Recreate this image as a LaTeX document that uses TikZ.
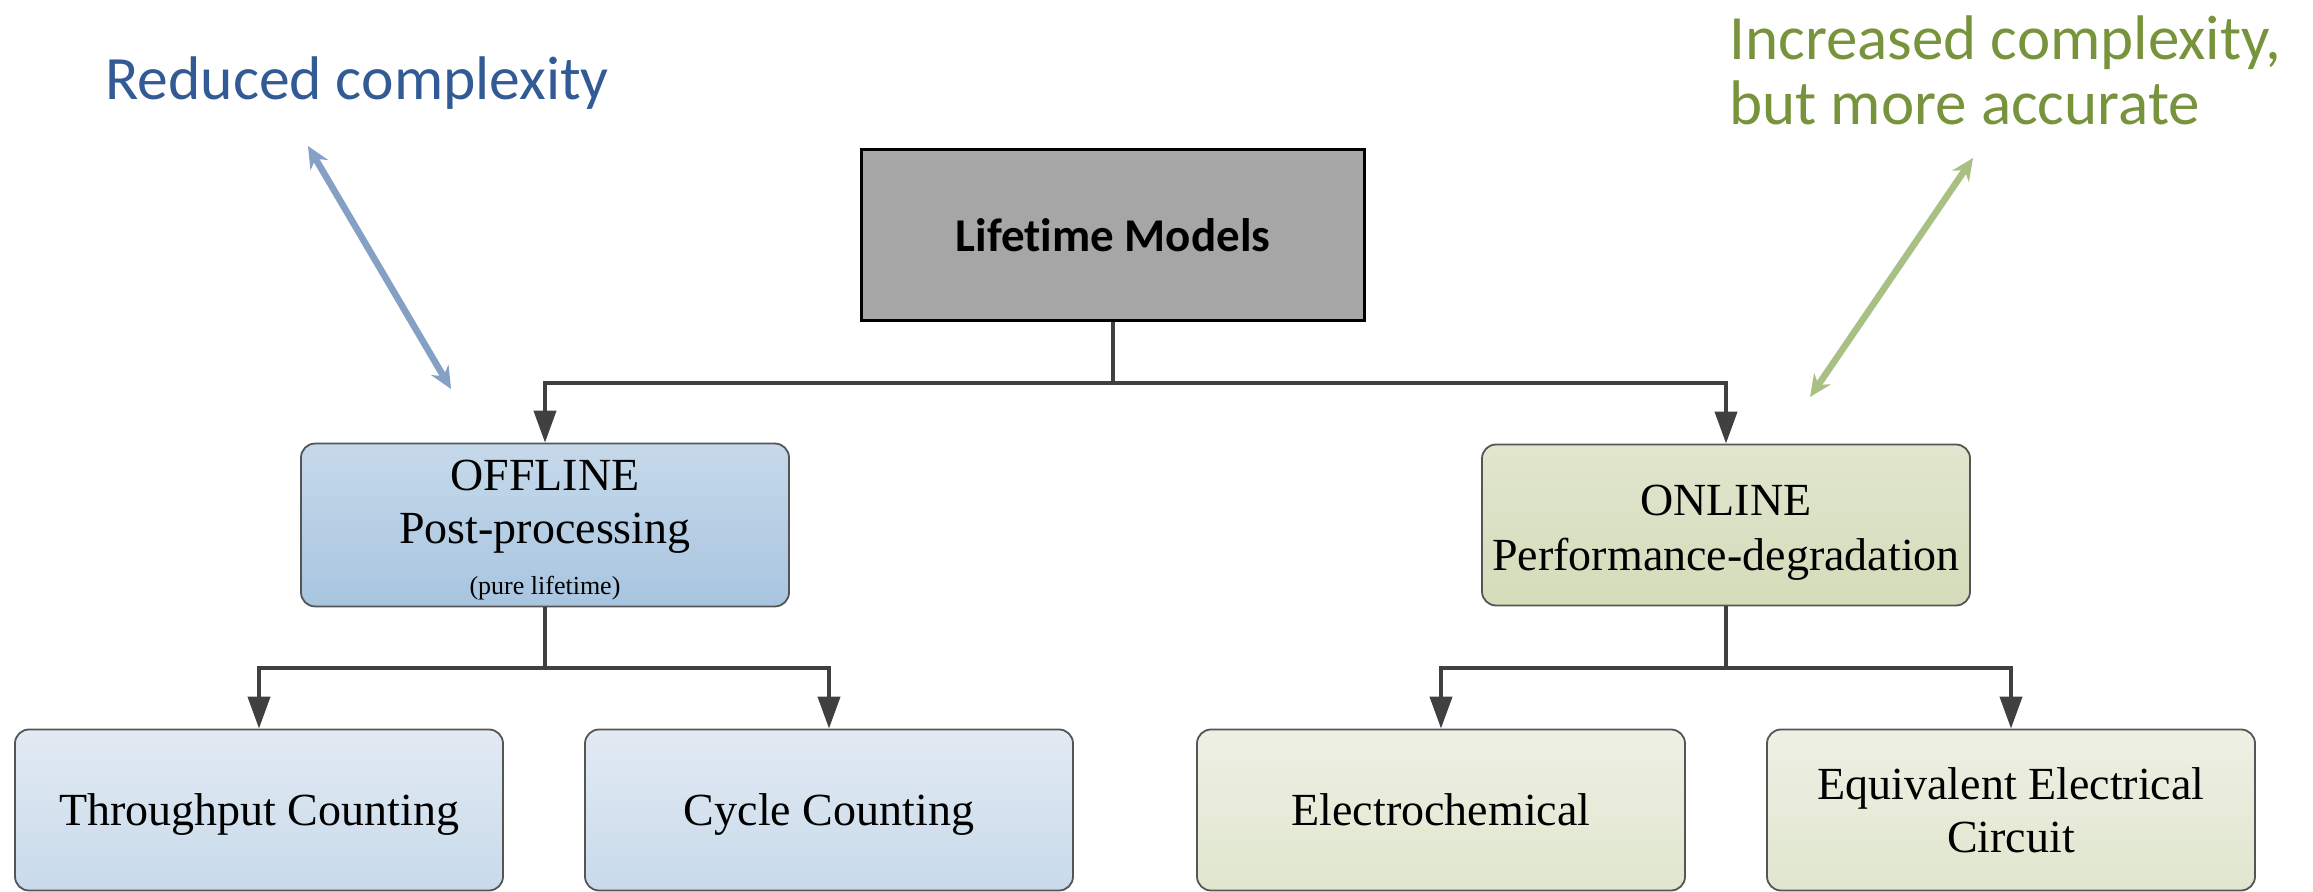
\documentclass[tikz,border=0pt]{standalone}
\usepackage{fontspec}
\usetikzlibrary{arrows.meta}
\newfontfamily\calib{Carlito}[Ligatures=NoCommon]
\newfontfamily\tms{Liberation Serif}
\definecolor{bluetext}{RGB}{50,90,148}
\definecolor{bluearrow}{RGB}{132,160,196}
\definecolor{greentext}{RGB}{119,147,60}
\definecolor{greenarrow}{RGB}{168,192,132}
\definecolor{linec}{RGB}{64,64,64}
\definecolor{edgec}{RGB}{85,85,85}
\definecolor{topgray}{RGB}{166,166,166}
\definecolor{offtop}{RGB}{198,217,234}
\definecolor{offbot}{RGB}{168,197,224}
\definecolor{offltop}{RGB}{226,234,243}
\definecolor{offlbot}{RGB}{200,218,234}
\definecolor{ontop}{RGB}{225,230,206}
\definecolor{onbot}{RGB}{212,220,186}
\definecolor{onltop}{RGB}{238,240,228}
\definecolor{onlbot}{RGB}{224,230,206}
% raises the first line of a box so that the text sits a little lower
\newcommand\firstline[1]{\rule{0pt}{#1}}
\tikzset{
  conn/.style={draw=linec, line width=2pt},
  tip/.style={-{Triangle[length=16pt,width=11pt]}},
  rbox/.style={rounded corners=7pt, draw=edgec, line width=0.9pt,
    minimum width=244pt, minimum height=80.5pt, align=center,
    font=\tms\fontsize{23}{26.5}\selectfont},
  offmain/.style={rbox, top color=offtop, bottom color=offbot},
  offleaf/.style={rbox, top color=offltop, bottom color=offlbot},
  onmain/.style={rbox, top color=ontop, bottom color=onbot},
  onleaf/.style={rbox, top color=onltop, bottom color=onlbot},
  rootbox/.style={draw=black, line width=1.1pt, fill=topgray,
    minimum width=251.5pt, minimum height=85.5pt,
    font=\calib\bfseries\fontsize{23.5}{28}\selectfont},
  note/.style={inner sep=0pt},
  dblarrow/.style={line width=3.3pt, {Stealth[length=11pt,width=10pt]}-{Stealth[length=11pt,width=10pt]}}
}
\begin{document}
\begin{tikzpicture}[x=0.5pt,y=-0.5pt]
\useasboundingbox (0,0) rectangle (2313,892);

% hierarchy boxes
\node[rootbox] (root) at (1113,235) {Lifetime Models};
\node[offmain] (off) at (545,525) {\firstline{20pt}OFFLINE\\Post-processing\\[-1pt]{\fontsize{13}{15}\selectfont (pure lifetime)}};
\node[onmain, font=\tms\fontsize{23}{27.2}\selectfont] (on) at (1726,525) {\firstline{23pt}ONLINE\\Performance-degradation};
\node[offleaf] (tc) at (259,810) {\firstline{20pt}Throughput Counting};
\node[offleaf] (cc) at (829,810) {\firstline{20pt}Cycle Counting};
\node[onleaf] (ec) at (1441,810) {Electrochemical};
\node[onleaf] (eec) at (2011,810) {Equivalent Electrical\\Circuit};

% junctions of the tree connectors
\coordinate (j0) at (1113,383);
\coordinate (j1) at (545,668);
\coordinate (j2) at (1726,668);

\draw[conn] (root.south) -- (j0);
\draw[conn,tip] (j0) -| (off.north);
\draw[conn,tip] (j0) -| (on.north);
\draw[conn] (off.south) -- (j1);
\draw[conn,tip] (j1) -| (tc.north);
\draw[conn,tip] (j1) -| (cc.north);
\draw[conn] (on.south) -- (j2);
\draw[conn,tip] (j2) -| (ec.north);
\draw[conn,tip] (j2) -| (eec.north);

% complexity annotations
\node[note, text=bluetext, anchor=base, font=\calib\fontsize{30.8}{32.5}\selectfont] (red) at (357,100) {Reduced complexity};
\node[note, text=greentext, anchor=north west, align=left, font=\calib\fontsize{31.5}{32.5}\selectfont] (inc) at (1729,15) {Increased complexity,\\but more accurate};

\coordinate (b1) at (308,146);
\coordinate (b2) at (451,389);
\draw[dblarrow, draw=bluearrow, fill=bluearrow] (b1) -- (b2);
\coordinate (g1) at (1973,158);
\coordinate (g2) at (1810,397);
\draw[dblarrow, draw=greenarrow, fill=greenarrow] (g1) -- (g2);
\end{tikzpicture}
\end{document}
